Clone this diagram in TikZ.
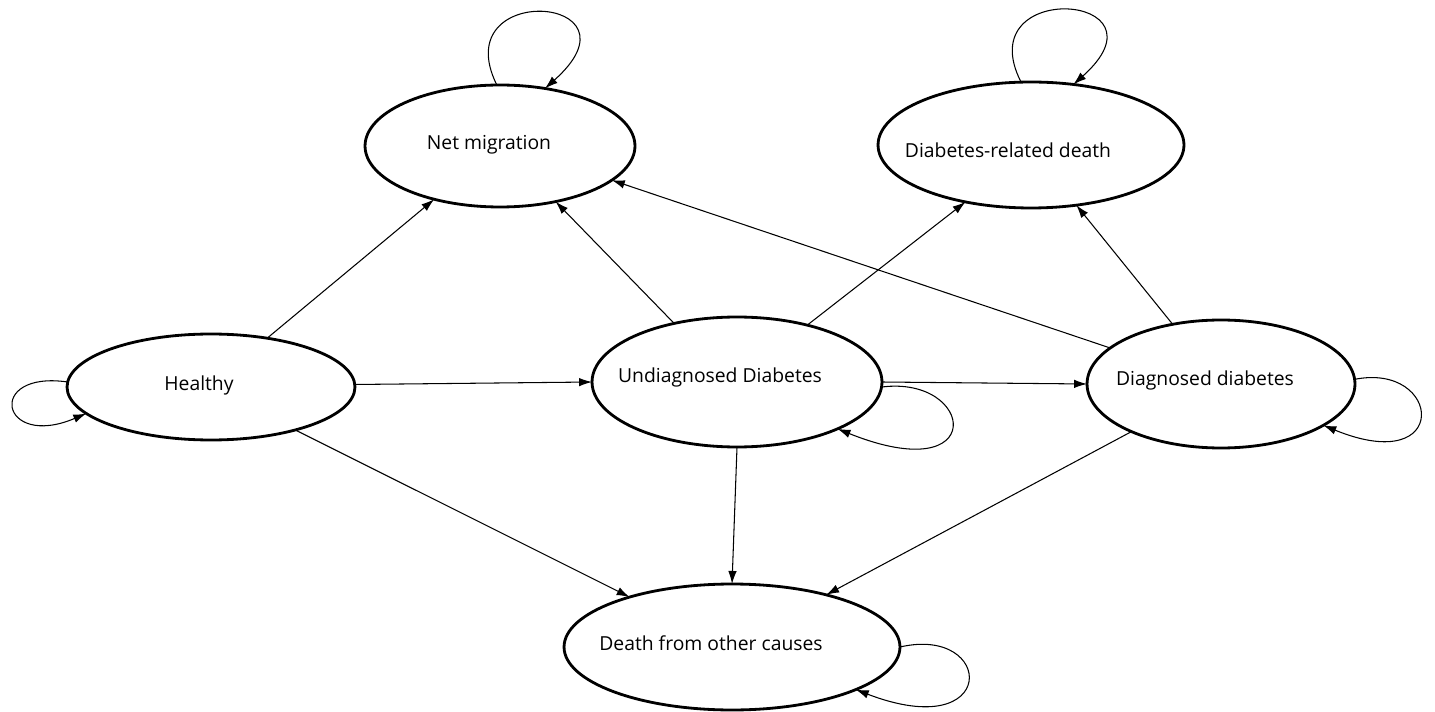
\documentclass[tikz,border=0pt]{standalone}
\usepackage{fontspec}
\setmainfont{Open Sans}
\usetikzlibrary{shapes.geometric,arrows.meta}

\begin{document}
\begin{tikzpicture}[x=0.02cm,y=-0.02cm,
			st/.style={ellipse,draw,line width=1.6pt,inner sep=0pt,outer sep=0pt},
			lb/.style={font=\fontsize{11}{13}\selectfont,inner sep=0pt},
			tr/.style={line width=0.6pt,-{Latex[length=0.26cm,width=0.17cm]}}]
			
			\useasboundingbox (0,0) rectangle (1435,712);
			
			% States
			\node[st,minimum width=5.4cm,minimum height=2.44cm] (net) at (500,146) {};
			\node[st,minimum width=6.12cm,minimum height=2.52cm] (drd) at (1031,145) {};
			\node[st,minimum width=5.76cm,minimum height=2.12cm] (hea) at (211,387) {};
			\node[st,minimum width=5.8cm,minimum height=2.6cm] (und) at (737,382) {};
			\node[st,minimum width=5.36cm,minimum height=2.56cm] (dia) at (1221,384) {};
			\node[st,minimum width=6.72cm,minimum height=2.52cm] (dth) at (732,647) {};
			
			% Labels (set a little off centre)
			\node[lb] (netT) at (489,145) {Net migration};
			\node[lb] (drdT) at (1008,150) {Diabetes-related death};
			\node[lb] (heaT) at (199,385) {Healthy};
			\node[lb] (undT) at (720,377) {Undiagnosed Diabetes};
			\node[lb] (diaT) at (1205,380) {Diagnosed diabetes};
			\node[lb] (dthT) at (711,643) {Death from other causes};
			
			% Transitions
			\draw[tr] (hea.41) -- (net.-141);
			\draw[tr] (hea.1) -- (und.180);
			\draw[tr] (hea.-27) -- (dth.154);
			\draw[tr] (und.137) -- (net.-45);
			\draw[tr] (und.39) -- (drd.-139);
			\draw[tr] (und.0) -- (dia.180);
			\draw[tr] (und.-90) -- (dth.90);
			\draw[tr] (dia.162) -- (net.-17.5);
			\draw[tr] (dia.129) -- (drd.-53);
			\draw[tr] (dia.-152) -- (dth.29);
			
			% Self loops
			\draw[tr] (net.93) .. controls (445,-20) and (650,-5) .. (net.52);
			\draw[tr] (drd.99) .. controls (968,-22) and (1176,-7) .. (drd.55);
			\draw[tr] (hea.178) .. controls (-15,370) and (0,450) .. (hea.192);
			\draw[tr] (und.-2) .. controls (975,375) and (990,490) .. (und.-25);
			\draw[tr] (dia.2) .. controls (1442,362) and (1452,478) .. (dia.-22);
			\draw[tr] (dth.0) .. controls (995,625) and (1000,745) .. (dth.-19);
			
		\end{tikzpicture}
\end{document}
